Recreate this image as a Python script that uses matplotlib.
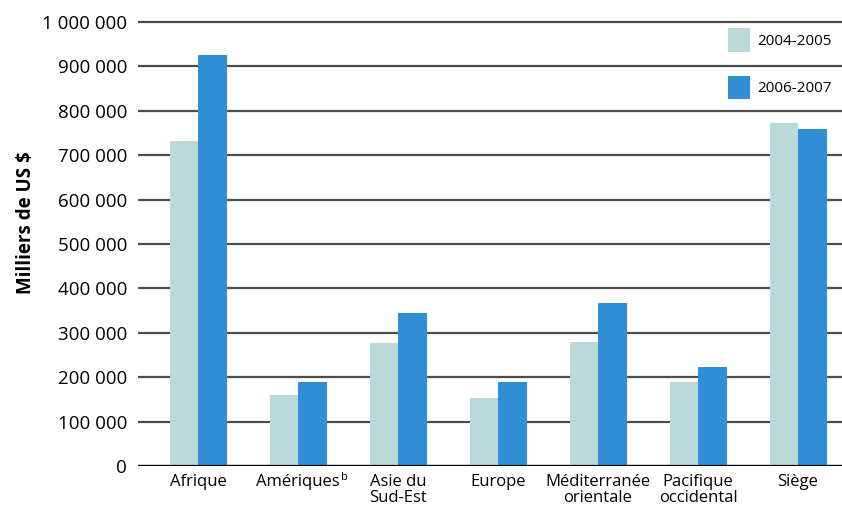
import numpy as np
import matplotlib.pyplot as plt

regions = ["Afrique", "Amériques", "Asie du\nSud-Est", "Europe",
           "Méditerranée\norientale", "Pacifique\noccidental", "Siège"]
budget_2004_2005 = [732000, 160000, 277000, 153000, 279000, 189000, 773000]
budget_2006_2007 = [925000, 189000, 345000, 189000, 367000, 223000, 759000]
y_ticks = [0, 100000, 200000, 300000, 400000, 500000, 600000, 700000, 800000, 900000, 1000000]

plt.rcParams['font.family'] = ['Open Sans', 'DejaVu Sans']

fig = plt.figure(figsize=(8.42, 5.05), dpi=100)
ax = fig.add_axes([138 / 842, 39 / 505, 1 - 138 / 842, 446 / 505])

x = np.arange(len(regions))
w = 0.285
ax.bar(x - w / 2, budget_2004_2005, w, color="#bbd9d9", label="2004-2005", zorder=3)
ax.bar(x + w / 2, budget_2006_2007, w, color="#318fd5", label="2006-2007", zorder=3)

ax.set_xlim(-0.6, 6.44)
# a little headroom so the top gridline isn't clipped
ax.set_ylim(0, 1004500)
ax.set_yticks(y_ticks)
ax.set_yticklabels([f"{v:,}".replace(",", " ") for v in y_ticks])
ax.yaxis.grid(True, color="#4d4d4d", linewidth=1.6, zorder=1)
ax.axhline(0, color="black", linewidth=1.6, zorder=4)
for s in ax.spines.values():
    s.set_visible(False)

ax.set_xticks(x)
ax.set_xticklabels(regions, fontsize=12, linespacing=0.95, va="top")
ax.tick_params(axis="x", length=0, pad=6)
ax.tick_params(axis="y", length=0, pad=8, labelsize=13.5)

ax.set_ylabel("Milliers de US $", fontsize=13.5, fontweight="bold")
ax.yaxis.set_label_coords(-0.145, 0.545)

ax.legend(loc="upper left", bbox_to_anchor=(0.818, 1.012), frameon=False, fontsize=11,
          handlelength=1.45, handleheight=1.95, labelspacing=1.6, handletextpad=0.5)

# footnote mark after "Amériques"
fig.canvas.draw()
bb = ax.get_xticklabels()[1].get_window_extent()
fig.text((bb.x1 + 1) / fig.bbox.width, (bb.y1 + 2) / fig.bbox.height, "b",
         fontsize=8, va="top", ha="left")

fig.savefig("out.png", dpi=100)
